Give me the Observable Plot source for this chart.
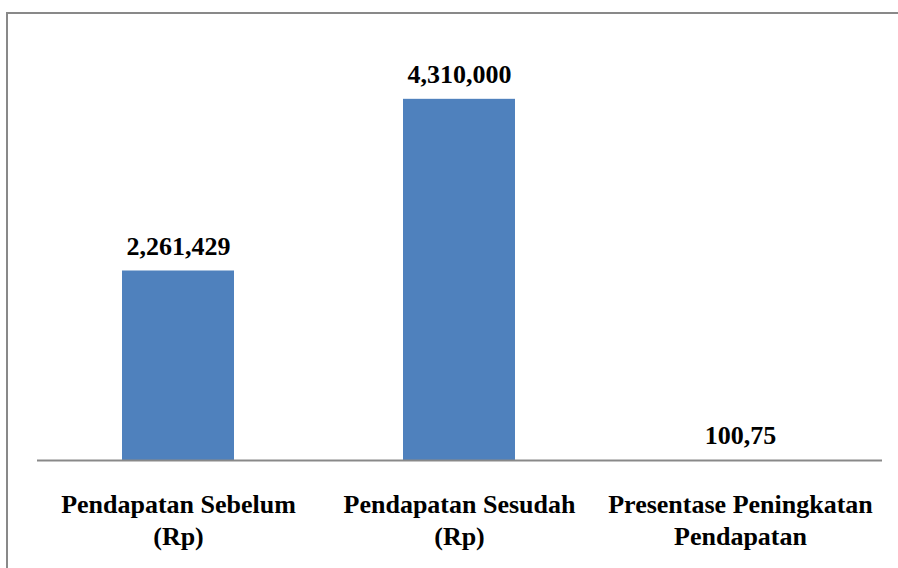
<!DOCTYPE html>
<html>
<head>
<meta charset="utf-8">
<script src="https://cdn.jsdelivr.net/npm/d3@7"></script>
<script src="https://cdn.jsdelivr.net/npm/@observablehq/plot@0.6"></script>
<style>
  html, body { margin: 0; padding: 0; background: #fff; }
  #frame { position: absolute; left: 6px; top: 12px; width: 892px; height: 556px;
           border-left: 2px solid #898989; border-top: 2px solid #898989; box-sizing: border-box; }
  #chart { position: absolute; left: 0; top: 0; }
</style>
</head>
<body>
<div id="frame"></div>
<div id="chart"></div>
<script>
const categories = ["Pendapatan Sebelum\n(Rp)", "Pendapatan Sesudah\n(Rp)", "Presentase Peningkatan\nPendapatan"];
const values = [2261429, 4310000, 100.75];
const valueLabels = ["2,261,429", "4,310,000", "100,75"];

const data = categories.map((c, i) => ({category: c, value: values[i], label: valueLabels[i]}));
const font = "'Times New Roman', 'Liberation Serif', Tinos, serif";

const chart = Plot.plot({
  width: 898,
  height: 568,
  marginLeft: 37,
  marginRight: 16,
  marginTop: 41,
  marginBottom: 108,
  style: {fontFamily: font, background: "transparent"},
  x: {domain: categories, paddingInner: 0.6, paddingOuter: 0.3, axis: null},
  y: {domain: [0, 5000000], axis: null},
  marks: [
    Plot.barY(data, {x: "category", y: "value", fill: "#4F81BD"}),
    Plot.ruleY([0], {stroke: "#898989", strokeWidth: 2}),
    Plot.text(data, {x: "category", y: "value", text: "label", lineAnchor: "bottom", dy: -16,
      fontSize: 26, fontWeight: "bold", fill: "#000", fontFamily: font}),
    Plot.text(data, {x: "category", frameAnchor: "bottom", text: "category", lineAnchor: "top", dy: 29.5,
      fontSize: 26, fontWeight: "bold", fill: "#000", fontFamily: font, lineHeight: 1.23})
  ]
});
d3.select(chart).selectAll("text, tspan")
  .style("font-family", font, "important")
  .style("font-weight", "bold", "important");
document.getElementById("chart").appendChild(chart);
</script>
</body>
</html>
